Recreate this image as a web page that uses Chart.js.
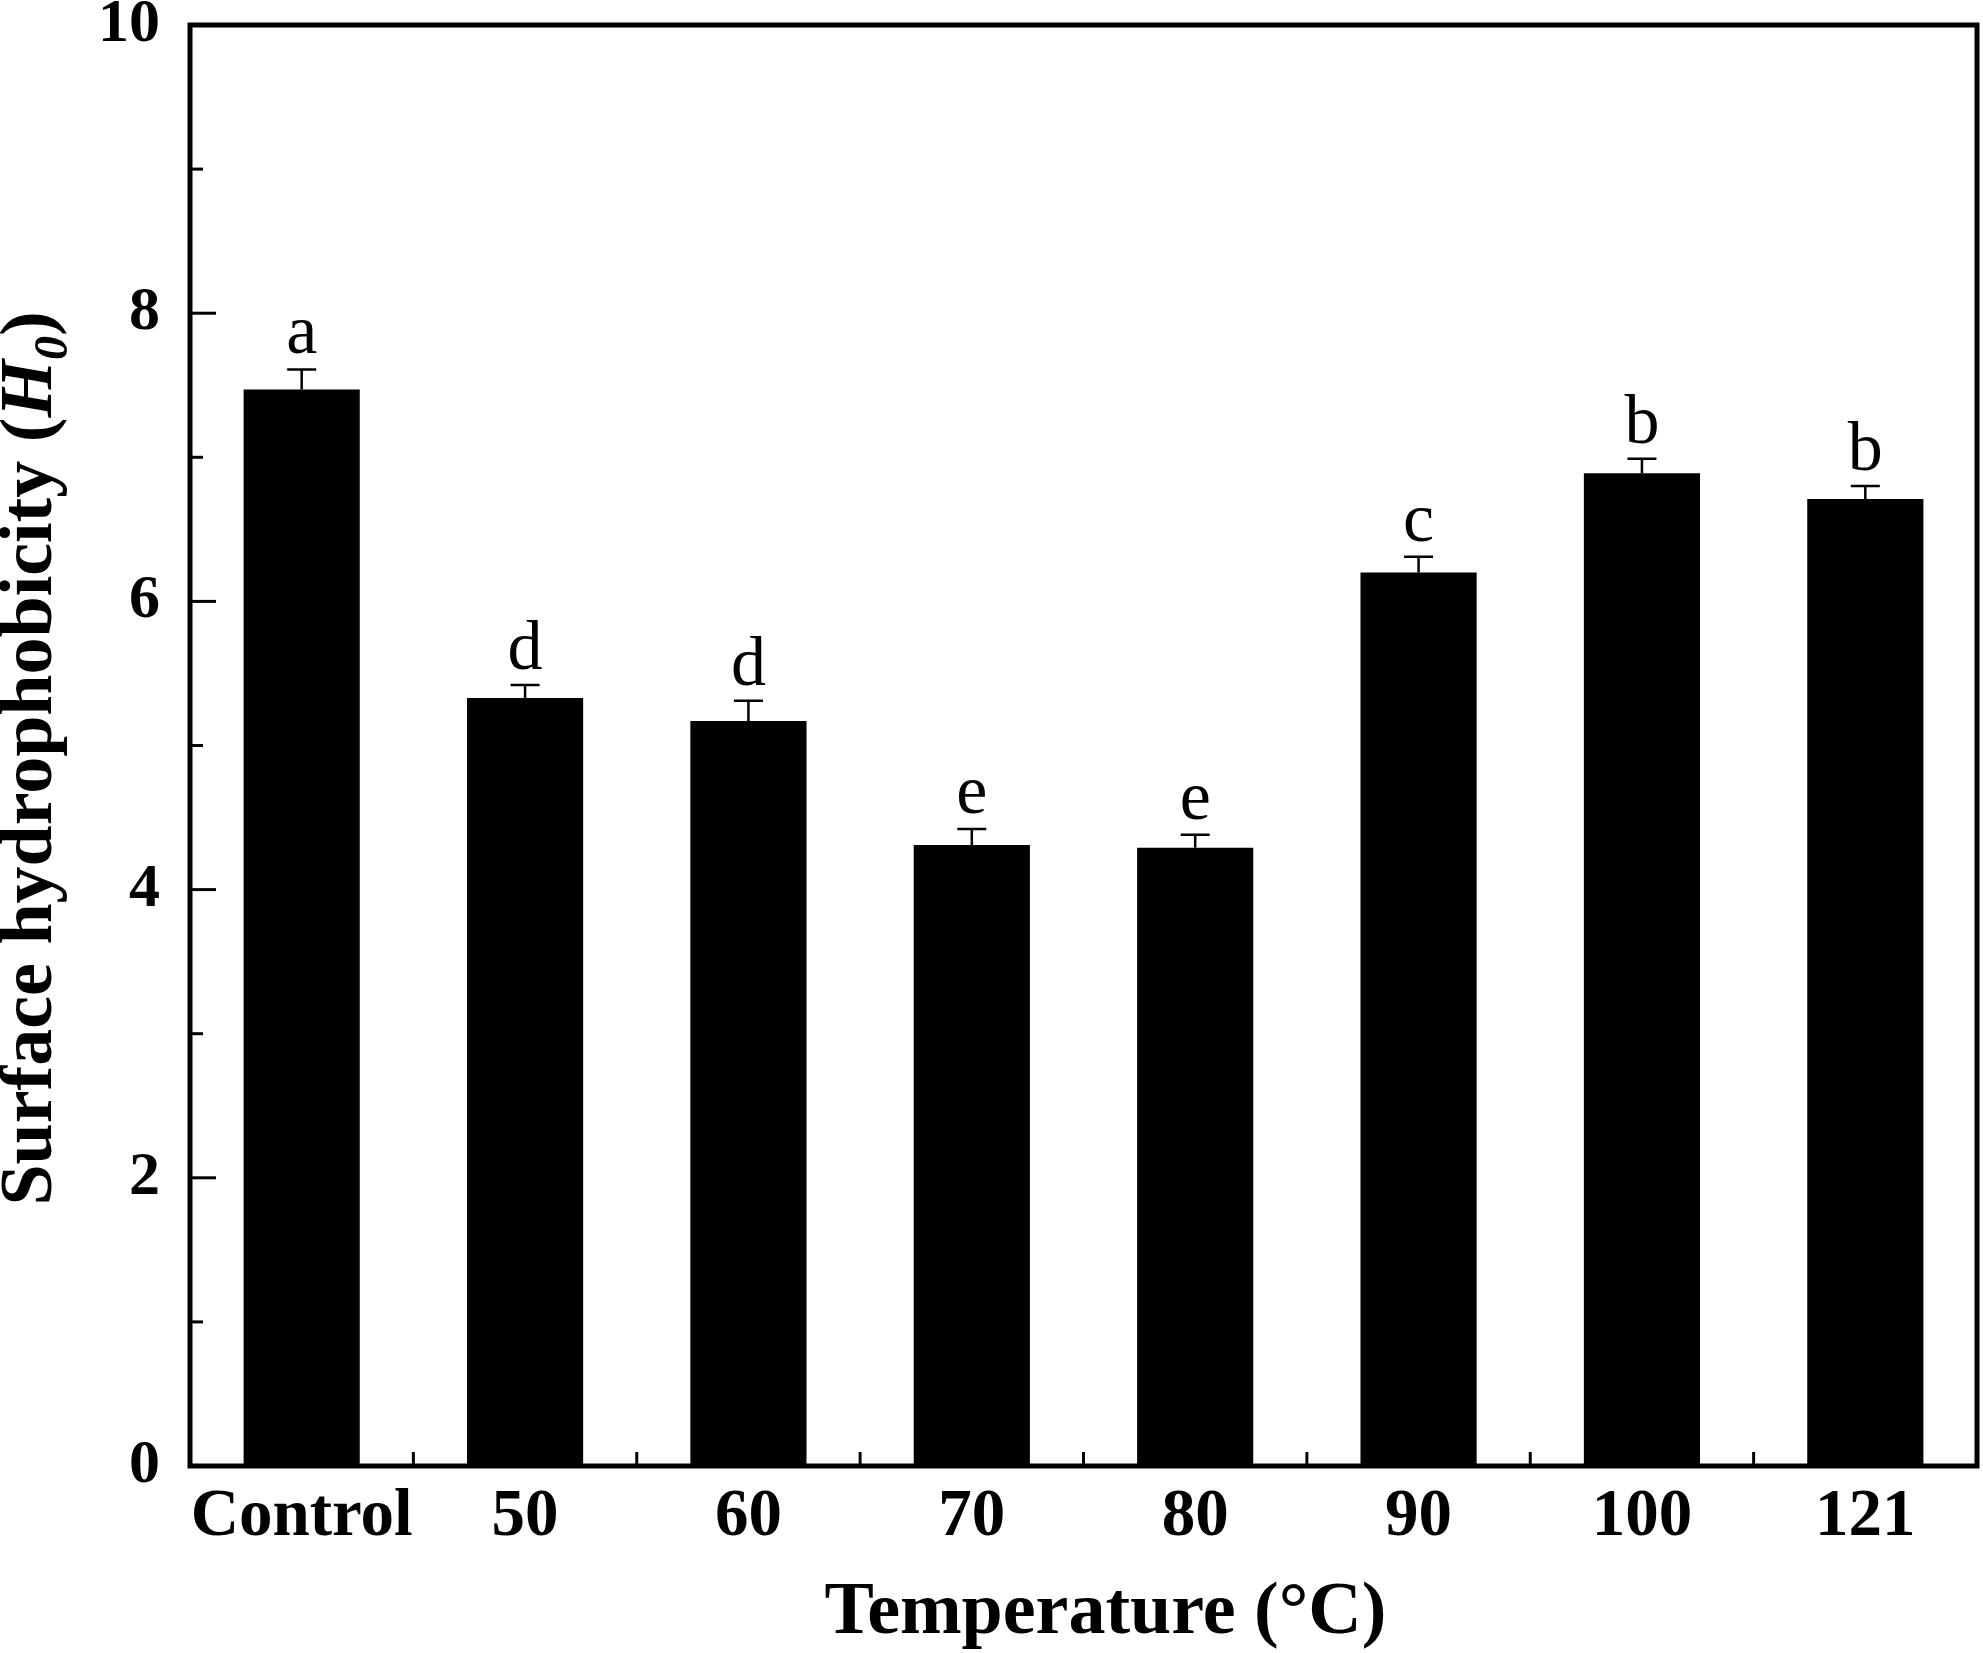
<!DOCTYPE html>
<html>
<head>
<meta charset="utf-8">
<script src="https://cdn.jsdelivr.net/npm/chart.js@4.4.1/dist/chart.umd.min.js"></script>
<style>
  html, body { margin: 0; padding: 0; background: #fff; }
  #wrap { width: 1983px; height: 1653px; }
</style>
</head>
<body>
<div id="wrap"><canvas id="c" width="1983" height="1653"></canvas></div>
<script>
const categories = ['Control', '50', '60', '70', '80', '90', '100', '121'];
const meanValues = [7.47, 5.33, 5.17, 4.31, 4.29, 6.20, 6.89, 6.71];
const errorValues = [0.14, 0.09, 0.14, 0.11, 0.09, 0.11, 0.10, 0.09];
const groupLetters = ['a', 'd', 'd', 'e', 'e', 'c', 'b', 'b'];
const yTickValues = [0, 2, 4, 6, 8, 10];
const xTitle = 'Temperature (\u00B0C)';
const yTitleParts = ['Surface hydrophobicity (', 'H', '0', ')'];

const SERIF = '"Liberation Serif", "Times New Roman", serif';

const decorPlugin = {
  id: 'decor',
  afterDatasetsDraw(chart) {
    const ctx = chart.ctx;
    const area = chart.chartArea;
    const xs = chart.scales.x;
    const ys = chart.scales.y;
    ctx.save();
    ctx.strokeStyle = '#000';
    ctx.fillStyle = '#000';

    // error bars
    ctx.lineWidth = 2.5;
    meanValues.forEach((v, i) => {
      const cx = xs.getPixelForValue(i);
      const yTop = ys.getPixelForValue(v + errorValues[i]);
      const yBar = ys.getPixelForValue(v);
      ctx.beginPath();
      ctx.moveTo(cx, yBar);
      ctx.lineTo(cx, yTop);
      ctx.moveTo(cx - 14.5, yTop);
      ctx.lineTo(cx + 14.5, yTop);
      ctx.stroke();
    });

    // significance letters
    ctx.font = 'normal 70px ' + SERIF;
    ctx.textAlign = 'center';
    ctx.textBaseline = 'alphabetic';
    groupLetters.forEach((t, i) => {
      const cx = xs.getPixelForValue(i);
      const yTop = ys.getPixelForValue(meanValues[i] + errorValues[i]);
      ctx.fillText(t, cx, yTop - 16);
    });

    // frame
    ctx.lineWidth = 5;
    ctx.strokeRect(area.left, area.top, area.right - area.left, area.bottom - area.top);

    // y ticks (inward), major and minor
    ctx.lineWidth = 3;
    for (let v = ys.min; v <= ys.max; v += 1) {
      const py = ys.getPixelForValue(v);
      const len = (v % 2 === 0) ? 26 : 13;
      ctx.beginPath();
      ctx.moveTo(area.left, py);
      ctx.lineTo(area.left + len, py);
      ctx.stroke();
    }
    // x ticks (inward) at category boundaries
    for (let i = 0; i < categories.length - 1; i++) {
      const px = (xs.getPixelForValue(i) + xs.getPixelForValue(i + 1)) / 2;
      ctx.beginPath();
      ctx.moveTo(px, area.bottom);
      ctx.lineTo(px, area.bottom - 14);
      ctx.stroke();
    }

    // x axis title
    ctx.font = 'bold 74px ' + SERIF;
    ctx.textAlign = 'center';
    ctx.textBaseline = 'alphabetic';
    ctx.fillText(xTitle, (area.left + area.right) / 2 + 22, 1633);

    // y axis title with italic H and subscript 0
    const fBold = 'bold 74px ' + SERIF;
    const fItal = 'italic bold 74px ' + SERIF;
    const fSub = 'italic bold 48px ' + SERIF;
    const fonts = [fBold, fItal, fSub, fBold];
    const widths = yTitleParts.map((s, k) => { ctx.font = fonts[k]; return ctx.measureText(s).width; });
    const total = widths.reduce((a, b) => a + b, 0);
    ctx.translate(51, (area.top + area.bottom) / 2 + 13);
    ctx.rotate(-Math.PI / 2);
    ctx.textAlign = 'left';
    let x0 = -total / 2;
    yTitleParts.forEach((s, k) => {
      ctx.font = fonts[k];
      ctx.fillText(s, x0, k === 2 ? 16 : 0);
      x0 += widths[k];
    });
    ctx.restore();
  }
};

new Chart(document.getElementById('c'), {
  type: 'bar',
  data: {
    labels: categories,
    datasets: [{
      data: meanValues,
      backgroundColor: '#000',
      borderWidth: 0,
      barPercentage: 0.52,
      categoryPercentage: 1.0
    }]
  },
  options: {
    responsive: false,
    animation: false,
    devicePixelRatio: 1,
    layout: { padding: { top: 25, right: 6, bottom: 0, left: 0 } },
    plugins: { legend: { display: false }, tooltip: { enabled: false } },
    scales: {
      x: {
        grid: { display: false, drawTicks: false },
        border: { display: false },
        ticks: {
          color: '#000',
          font: { family: SERIF, size: 67, weight: 'bold' },
          padding: 11,
          maxRotation: 0,
          autoSkip: false
        },
        afterFit(scale) {
          scale.height = 187;
          scale.paddingLeft = 0;
          scale.paddingRight = 0;
        }
      },
      y: {
        min: 0,
        max: 10,
        grid: { display: false, drawTicks: false },
        border: { display: false },
        afterBuildTicks(scale) { scale.ticks = yTickValues.map(v => ({ value: v })); },
        ticks: {
          color: '#000',
          font: { family: SERIF, size: 62, weight: 'bold' },
          padding: 30
        },
        afterFit(scale) {
          scale.width = 190;
          scale.paddingTop = 0;
          scale.paddingBottom = 0;
        }
      }
    }
  },
  plugins: [decorPlugin]
});
</script>
</body>
</html>
